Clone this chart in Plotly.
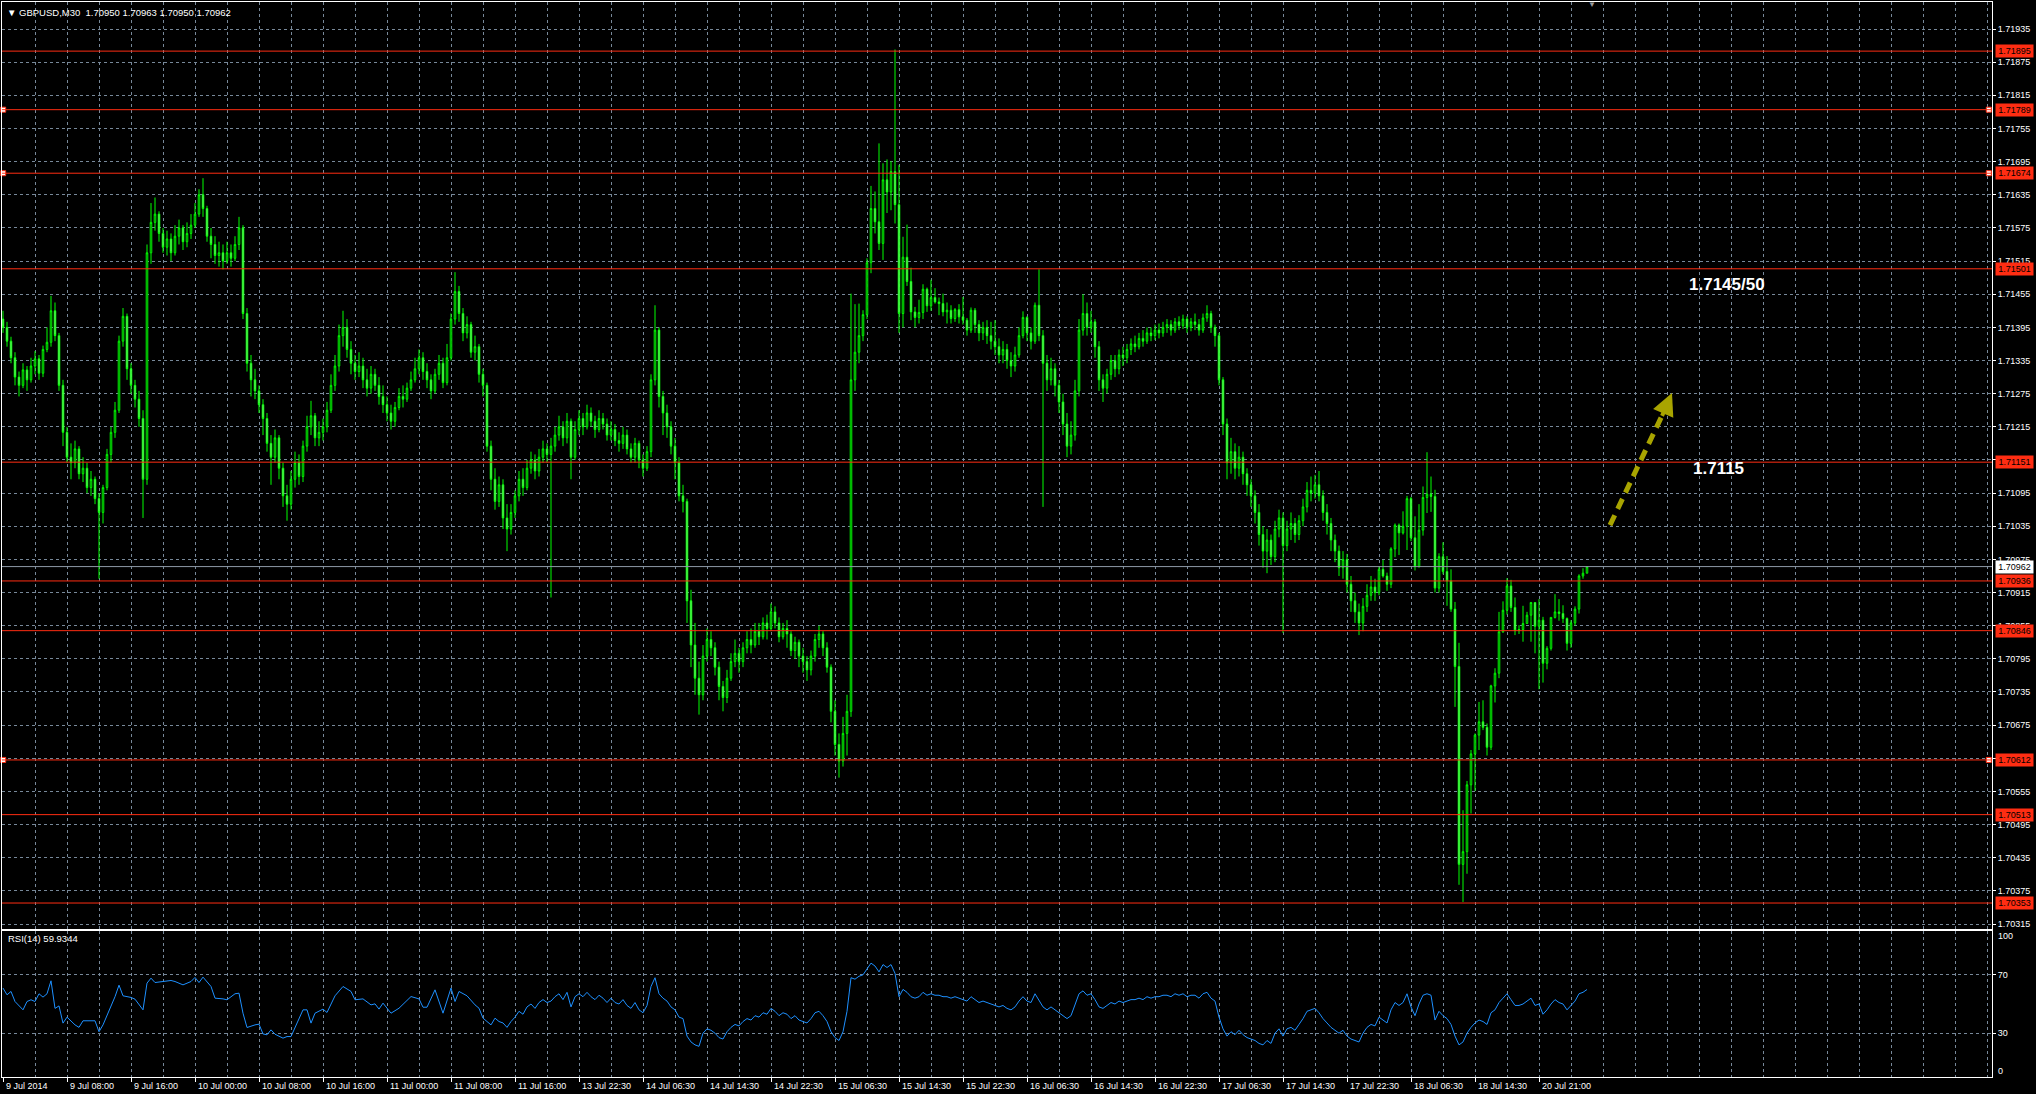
import plotly.graph_objects as go

W, H = 2036, 1094
BASE = 1.70          # prices below are in 0.00001 units above 1.70000
SCALE = 1e-5

# ---------------- OHLC data (GBPUSD M30), one entry per bar ----------------
first_open = 1410
close_pts = [
    1395, 1370, 1340, 1305, 1290, 1318, 1300, 1325,
    1338, 1312, 1355, 1368, 1425, 1380, 1290, 1205,
    1160, 1150, 1175, 1130, 1140, 1105, 1120, 1085,
    1060, 1105, 1165, 1205, 1245, 1370, 1415, 1320,
    1290, 1265, 1230, 1120, 1530, 1585, 1600, 1565,
    1540, 1555, 1530, 1560, 1575, 1550, 1565, 1580,
    1600, 1635, 1610, 1560, 1545, 1525, 1530, 1515,
    1530, 1520, 1545, 1575, 1420, 1330, 1300, 1280,
    1255, 1230, 1185, 1160, 1195, 1140, 1090, 1075,
    1120, 1150, 1125, 1180, 1215, 1235, 1195, 1205,
    1215, 1245, 1290, 1325, 1380, 1395, 1355, 1330,
    1315, 1325, 1300, 1285, 1310, 1290, 1270, 1255,
    1240, 1225, 1250, 1270, 1265, 1285, 1300, 1320,
    1340, 1315, 1300, 1280, 1310, 1330, 1295, 1340,
    1410, 1460, 1420, 1385, 1400, 1350, 1360, 1310,
    1290, 1180, 1120, 1080, 1110, 1050, 1030, 1060,
    1090, 1120, 1105, 1140, 1155, 1135, 1160, 1175,
    1165, 1180, 1200, 1215, 1195, 1225, 1160, 1210,
    1230, 1215, 1240, 1225, 1210, 1230, 1220, 1200,
    1210, 1190, 1185, 1200, 1175, 1160, 1185, 1155,
    1140, 1170, 1300, 1390, 1270, 1240, 1215, 1180,
    1150, 1090, 1080, 900, 820, 760, 730, 800,
    830, 815, 780, 745, 725, 760, 790, 805,
    790, 815, 830, 820, 845, 835, 860, 850,
    880, 860, 835, 850, 840, 810, 825, 800,
    790, 775, 800, 830, 840, 815, 780, 700,
    640, 610, 660, 700, 1300, 1350, 1380, 1418,
    1512, 1610, 1586, 1547, 1662, 1640, 1677, 1617,
    1420, 1522, 1478, 1423, 1413, 1422, 1464, 1434,
    1449, 1441, 1438, 1423, 1426, 1411, 1427, 1414,
    1408, 1390, 1426, 1400, 1385, 1395, 1380, 1370,
    1360, 1345, 1355, 1335, 1325, 1345, 1380, 1413,
    1385, 1370, 1435, 1380, 1330, 1300, 1320, 1290,
    1260, 1220, 1180, 1200, 1280, 1390, 1420, 1395,
    1405, 1360, 1300, 1285, 1310, 1335, 1320, 1345,
    1340, 1355, 1365, 1360, 1375, 1370, 1385, 1380,
    1390, 1385, 1395, 1400, 1390, 1405, 1398, 1410,
    1395, 1405, 1400, 1390, 1412, 1420, 1395, 1380,
    1300, 1220, 1150, 1170, 1140, 1160, 1130, 1110,
    1090, 1060, 1020, 990, 1010, 980, 1030, 1050,
    1000, 1030, 1040, 1020, 1045, 1070, 1100, 1095,
    1110, 1090, 1060, 1040, 1010, 990, 960, 975,
    930, 900, 880, 860, 890, 910, 925, 915,
    957, 945, 930, 994, 1037, 1023, 1035, 1085,
    1014, 962, 1028, 1087, 1093, 1089, 923, 980,
    953, 936, 885, 781, 423, 446, 567, 623,
    657, 681, 671, 635, 746, 769, 844, 883,
    927, 888, 846, 848, 859, 874, 897, 854,
    865, 787, 814, 870, 880, 877, 868, 823,
    860, 885, 945, 950, 962,
]
high_pts = [
    1425, 1405, 1378, 1350, 1315, 1330, 1325, 1340,
    1352, 1345, 1362, 1395, 1452, 1440, 1385, 1300,
    1215, 1185, 1190, 1180, 1160, 1150, 1135, 1125,
    1095, 1110, 1175, 1215, 1260, 1380, 1430, 1420,
    1330, 1300, 1280, 1245, 1545, 1620, 1630, 1605,
    1575, 1570, 1565, 1580, 1590, 1580, 1585, 1600,
    1620, 1645, 1665, 1615, 1575, 1560, 1550, 1545,
    1550, 1545, 1560, 1595, 1580, 1430, 1345, 1320,
    1290, 1265, 1240, 1200, 1210, 1200, 1150, 1110,
    1135, 1170, 1165, 1190, 1235, 1262, 1240, 1225,
    1230, 1260, 1310, 1345, 1400, 1425, 1410, 1370,
    1345, 1350, 1340, 1320, 1325, 1320, 1305, 1290,
    1270, 1255, 1260, 1285, 1290, 1295, 1315, 1340,
    1355, 1350, 1330, 1310, 1320, 1345, 1340, 1365,
    1420, 1495, 1470, 1430, 1415, 1405, 1380, 1365,
    1320, 1295, 1190, 1140, 1125, 1120, 1075, 1075,
    1100, 1135, 1140, 1155, 1170, 1165, 1175, 1190,
    1185, 1195, 1215, 1235, 1225, 1240, 1230, 1225,
    1245, 1240, 1255, 1250, 1235, 1245, 1240, 1230,
    1225, 1220, 1205, 1215, 1210, 1185, 1195, 1190,
    1165, 1180, 1310, 1435, 1395, 1280, 1255, 1225,
    1195, 1160, 1110, 1085, 920, 860, 790, 820,
    850, 845, 825, 790, 755, 775, 805, 830,
    815, 825, 845, 850, 860, 860, 870, 875,
    895, 890, 870, 860, 865, 845, 835, 830,
    815, 800, 810, 840, 855, 845, 825, 785,
    720, 660, 690, 730, 1456, 1437, 1438, 1426,
    1520, 1651, 1641, 1728, 1692, 1699, 1696, 1898,
    1689, 1559, 1581, 1503, 1432, 1445, 1473, 1467,
    1481, 1466, 1449, 1456, 1440, 1435, 1430, 1437,
    1450, 1412, 1431, 1430, 1408, 1405, 1408, 1405,
    1408, 1375, 1370, 1365, 1350, 1360, 1395, 1424,
    1415, 1395, 1440, 1500, 1390, 1345, 1340, 1330,
    1300, 1275, 1240, 1225, 1300, 1410, 1455, 1440,
    1425, 1410, 1370, 1310, 1320, 1345, 1345, 1355,
    1360, 1365, 1375, 1380, 1385, 1390, 1395, 1395,
    1400, 1402, 1405, 1410, 1408, 1412, 1415, 1418,
    1415, 1412, 1420, 1410, 1420, 1435, 1425, 1400,
    1385, 1305, 1230, 1195, 1185, 1180, 1170, 1140,
    1120, 1100, 1075, 1035, 1030, 1020, 1045, 1065,
    1060, 1045, 1060, 1050, 1055, 1085, 1115, 1125,
    1128, 1135, 1100, 1075, 1050, 1020, 1000, 990,
    985, 945, 915, 895, 905, 930, 945, 940,
    962, 974, 951, 997, 1040, 1040, 1062, 1090,
    1088, 1053, 1075, 1107, 1169, 1125, 1101, 986,
    1006, 981, 957, 898, 824, 521, 574, 630,
    660, 717, 720, 678, 748, 778, 880, 899,
    941, 938, 906, 856, 891, 880, 898, 895,
    903, 871, 818, 870, 912, 903, 892, 870,
    865, 890, 948, 959, 963,
]
low_pts = [
    1385, 1360, 1330, 1290, 1270, 1285, 1280, 1295,
    1310, 1300, 1305, 1350, 1360, 1370, 1280, 1180,
    1150, 1120, 1140, 1120, 1115, 1095, 1090, 1075,
    940, 1040, 1100, 1150, 1195, 1240, 1360, 1300,
    1275, 1250, 1215, 1050, 1110, 1510, 1570, 1550,
    1530, 1525, 1515, 1525, 1545, 1535, 1540, 1555,
    1575, 1595, 1595, 1550, 1520, 1510, 1505, 1500,
    1510, 1505, 1515, 1535, 1410, 1315, 1270, 1265,
    1240, 1200, 1170, 1110, 1150, 1120, 1070, 1045,
    1065, 1105, 1110, 1115, 1170, 1200, 1180, 1180,
    1190, 1205, 1240, 1280, 1315, 1360, 1340, 1310,
    1300, 1305, 1285, 1270, 1275, 1280, 1255, 1240,
    1225, 1210, 1215, 1245, 1250, 1260, 1280, 1295,
    1310, 1300, 1285, 1265, 1275, 1300, 1285, 1290,
    1335, 1400, 1405, 1370, 1375, 1340, 1335, 1295,
    1270, 1170, 1100, 1065, 1070, 1030, 990, 1020,
    1050, 1080, 1090, 1100, 1130, 1120, 1125, 1150,
    1150, 906, 1170, 1190, 1180, 1185, 1120, 1155,
    1200, 1200, 1210, 1215, 1195, 1205, 1210, 1190,
    1190, 1180, 1170, 1175, 1165, 1150, 1150, 1140,
    1125, 1135, 1160, 1290, 1250, 1200, 1195, 1165,
    1120, 1080, 1060, 860, 780, 730, 694, 720,
    790, 800, 765, 720, 700, 715, 755, 780,
    770, 780, 805, 805, 815, 820, 830, 830,
    845, 850, 825, 830, 815, 800, 795, 780,
    770, 755, 765, 790, 815, 800, 770, 680,
    620, 580, 600, 620, 690, 1280, 1330, 1370,
    1410, 1493, 1565, 1535, 1517, 1602, 1607, 1583,
    1385, 1395, 1470, 1408, 1395, 1402, 1410, 1423,
    1425, 1438, 1417, 1415, 1402, 1402, 1405, 1402,
    1400, 1380, 1385, 1385, 1370, 1372, 1365, 1355,
    1345, 1330, 1330, 1320, 1305, 1315, 1340, 1375,
    1370, 1355, 1365, 1370, 1070, 1280, 1290, 1270,
    1240, 1200, 1160, 1165, 1190, 1270, 1380, 1380,
    1385, 1340, 1280, 1260, 1275, 1300, 1305, 1310,
    1325, 1330, 1345, 1350, 1355, 1360, 1365, 1370,
    1372, 1375, 1378, 1385, 1380, 1385, 1390, 1392,
    1385, 1388, 1390, 1380, 1385, 1405, 1385, 1360,
    1290, 1200, 1120, 1130, 1120, 1125, 1110, 1090,
    1070, 1040, 1000, 960, 950, 965, 970, 1015,
    842, 990, 1010, 1005, 1010, 1035, 1060, 1080,
    1085, 1080, 1045, 1020, 990, 970, 945, 940,
    915, 880, 860, 838, 845, 880, 900, 900,
    910, 942, 918, 923, 979, 983, 1020, 992,
    1008, 955, 960, 1018, 1059, 1061, 915, 915,
    948, 891, 880, 708, 386, 355, 406, 515,
    556, 630, 666, 620, 630, 716, 760, 842,
    875, 880, 838, 840, 826, 859, 826, 805,
    740, 752, 776, 810, 868, 864, 860, 810,
    815, 855, 877, 940, 950,
]

# ---------------- RSI(14) readings (bar index, value) ----------------
rsi_bar = [0, 1, 2, 3, 5, 6, 7, 8, 9, 10, 11, 12, 13, 14, 15, 16, 18, 19, 20, 23,
           24, 25, 28, 29, 30, 32, 33, 35, 36, 37, 38, 40, 42, 43, 45, 47, 48, 49, 50, 52,
           53, 55, 56, 58, 59, 60, 61, 63, 64, 65, 66, 67, 68, 70, 71, 72, 73, 75, 76, 77,
           78, 80, 81, 83, 85, 87, 88, 90, 92, 93, 94, 95, 97, 99, 102, 104, 105, 106, 108, 110,
           112, 113, 114, 116, 118, 119, 120, 122, 123, 124] + list(range(125, 397))
rsi_val = [60.9, 56.3, 58.6, 51.7, 46, 51.7, 52.9, 51.7, 57, 54.7, 57, 65.9, 47, 48.7, 36.9, 41, 35.7, 34, 38.5, 38.5,
           31, 35.7, 55, 62.9, 55.6, 54.5, 53.3, 46, 64.3, 67.7, 64.7, 65.4, 66.1, 65.4, 63.1, 65.4, 68.2, 64.7, 68.4, 62,
           54, 53.5, 52.9, 57, 57.4, 43.7, 33.9, 35.7, 36.2, 29.5, 28.9, 32.3, 29.3, 26.6, 27.7, 27.7, 34, 46, 46, 36.9,
           43.7, 46.5, 44.2, 55.6, 62, 58.6, 52.9, 53.5, 49.4, 50.1, 46.5, 50.6, 43.7, 47.1, 55.1, 53.5, 47.8, 47.8, 59.7, 43.7,
           60.9, 51.7, 58.6, 55.6, 49.4, 47.1, 40.3, 35.7, 40.3, 38,
           37, 34, 38, 41, 45, 43, 48, 50, 47, 51, 53, 51, 52, 55, 57, 53, 58, 48, 55,
           57, 55, 58, 55, 53, 56, 54, 51, 54, 51, 50, 53, 49, 47, 51, 46,
           44, 49, 62, 68, 57, 54, 52, 48, 46, 41, 40, 28, 24, 22, 21, 30,
           33, 32, 30, 27, 26, 31, 34, 36, 35, 38, 40, 39, 42, 41, 44, 43,
           47, 45, 42, 44, 43, 40, 42, 39, 38, 37, 40, 44, 45, 42, 38, 31,
           27, 25, 31, 45, 68, 67, 69, 70, 74, 78, 76, 72, 77, 75, 77, 71,
           55, 60, 58, 55, 54, 55, 58, 56, 57, 56, 56, 55, 55, 54, 55, 54,
           53, 52, 55, 53, 51, 52, 51, 50, 49, 48, 49, 47, 46, 48, 52, 55,
           52, 51, 57, 52, 48, 46, 48, 46, 44, 42, 40, 42, 49, 57, 59, 56,
           57, 53, 48, 47, 49, 51, 50, 52, 51, 52, 53, 53, 54, 53, 55, 54,
           55, 55, 56, 56, 55, 57, 56, 57, 55, 56, 56, 54, 57, 58, 54, 52,
           41, 33, 28, 31, 29, 32, 29, 27, 26, 25, 23, 22, 25, 23, 30, 33,
           28, 33, 34, 32, 36, 40, 45, 46, 47, 44, 40, 37, 34, 32, 30, 32,
           28, 26, 25, 24, 30, 34, 36, 35, 41, 39, 37, 46, 51, 49, 51, 57,
           48, 42, 50, 56, 57, 56, 39, 45, 42, 40, 36, 28, 22, 24, 30, 34,
           37, 39, 38, 36, 44, 46, 51, 54, 57, 53, 49, 49, 50, 52, 54, 49,
           50, 43, 46, 50, 53, 51, 50, 46, 49, 52, 57, 58, 59.9344]

# ---------------- levels, ticks, labels ----------------
level_prices = [1.71895, 1.71789, 1.71674, 1.71501, 1.71151, 1.70936, 1.70846, 1.70612, 1.70513, 1.70353]
selected_levels = [1.71789, 1.71674, 1.70612]
current_price = 1.70962
price_tick_labels = ["1.71935", "1.71875", "1.71815", "1.71755", "1.71695", "1.71635", "1.71575",
                     "1.71515", "1.71455", "1.71395", "1.71335", "1.71275", "1.71215", "1.71155",
                     "1.71095", "1.71035", "1.70975", "1.70915", "1.70855", "1.70795", "1.70735",
                     "1.70675", "1.70615", "1.70555", "1.70495", "1.70435", "1.70375", "1.70315"]
time_label_bars = [0, 16, 32, 48, 64, 80, 96, 112, 128, 144, 160, 176, 192, 208, 224, 240,
                   256, 272, 288, 304, 320, 336, 352, 368, 384]
time_labels = ["9 Jul 2014", "9 Jul 08:00", "9 Jul 16:00", "10 Jul 00:00", "10 Jul 08:00",
               "10 Jul 16:00", "11 Jul 00:00", "11 Jul 08:00", "11 Jul 16:00", "13 Jul 22:30",
               "14 Jul 06:30", "14 Jul 14:30", "14 Jul 22:30", "15 Jul 06:30", "15 Jul 14:30",
               "15 Jul 22:30", "16 Jul 06:30", "16 Jul 14:30", "16 Jul 22:30", "17 Jul 06:30",
               "17 Jul 14:30", "17 Jul 22:30", "18 Jul 06:30", "18 Jul 14:30", "20 Jul 21:00"]
title_text = "GBPUSD,M30  1.70950 1.70963 1.70950 1.70962"
rsi_title = "RSI(14) 59.9344"
target_labels = ["1.7145/50", "1.7115"]

# ---------------- build series ----------------
n = len(close_pts)
bars = list(range(n))
c = [BASE + v * SCALE for v in close_pts]
o = [BASE + first_open * SCALE] + c[:-1]
h = [max(BASE + v * SCALE, oo, cc) for v, oo, cc in zip(high_pts, o, c)]
l = [min(BASE + v * SCALE, oo, cc) for v, oo, cc in zip(low_pts, o, c)]

FONT = "Liberation Sans, Arial, sans-serif"
GRID = "#778899"
RED = "#ff2d12"
LIME = "#00ff00"

def px_x(p):
    return p / W

def px_y(p):
    return (H - p) / H

XR = [-0.25, 497.25]
YR = [1.703060, 1.719839]

fig = go.Figure()
fig.add_trace(go.Candlestick(
    x=bars, open=o, high=h, low=l, close=c,
    increasing=dict(line=dict(color=LIME, width=1), fillcolor="#000000"),
    decreasing=dict(line=dict(color=LIME, width=1), fillcolor="#ffffff"),
    whiskerwidth=0, hoverinfo="skip", showlegend=False,
    xaxis="x", yaxis="y"))

fig.add_trace(go.Scatter(
    x=rsi_bar, y=rsi_val, mode="lines",
    line=dict(color="#1e90ff", width=1),
    hoverinfo="skip", showlegend=False, xaxis="x2", yaxis="y2"))

# small "selected object" squares at both ends of some level lines
fig.add_trace(go.Scatter(
    x=[XR[0] + 0.3] * len(selected_levels) + [XR[1] - 0.8] * len(selected_levels),
    y=selected_levels + selected_levels, mode="markers",
    marker=dict(symbol="square", size=5, color="#ffffff", line=dict(color=RED, width=1)),
    cliponaxis=False, hoverinfo="skip", showlegend=False, xaxis="x", yaxis="y"))

grid_ticks = list(range(0, 497, 8))
tick_prices = [float(t) for t in price_tick_labels]

fig.update_layout(
    width=W, height=H,
    margin=dict(l=0, r=0, t=0, b=0),
    paper_bgcolor="#000000", plot_bgcolor="#000000",
    boxgap=0.45,
    font=dict(family=FONT, size=9, color="#ffffff"),
    xaxis=dict(domain=[px_x(2), px_x(1992)], range=XR, anchor="y",
               tickvals=grid_ticks, showticklabels=False, ticks="",
               showgrid=True, gridcolor=GRID, griddash="3px,3px", gridwidth=1,
               showline=True, linecolor="#ffffff", linewidth=1, mirror=True,
               zeroline=False, rangeslider=dict(visible=False), fixedrange=True),
    yaxis=dict(domain=[px_y(929), px_y(2)], range=YR, side="right", anchor="x",
               tickvals=tick_prices, ticktext=price_tick_labels,
               ticks="outside", ticklen=3, tickcolor="#ffffff",
               tickfont=dict(family=FONT, size=9, color="#ffffff"),
               showgrid=True, gridcolor=GRID, griddash="3px,3px", gridwidth=1,
               showline=True, linecolor="#ffffff", linewidth=1, mirror=True,
               zeroline=False, fixedrange=True),
    xaxis2=dict(domain=[px_x(2), px_x(1992)], range=XR, anchor="y2", matches="x",
                tickvals=time_label_bars, ticktext=[""] * len(time_label_bars),
                ticks="outside", ticklen=4, tickcolor="#ffffff",
                showgrid=True, gridcolor=GRID, griddash="3px,3px",
                minor=dict(tick0=0, dtick=8, showgrid=True, gridcolor=GRID, griddash="3px,3px", ticks=""),
                showline=True, linecolor="#ffffff", linewidth=1, mirror=True,
                zeroline=False, fixedrange=True),
    yaxis2=dict(domain=[px_y(1077), px_y(931)], range=[0, 100], side="right", anchor="x2",
                tickvals=[70, 30], ticktext=["70", "30"],
                ticks="outside", ticklen=3, tickcolor="#ffffff",
                tickfont=dict(family=FONT, size=9, color="#ffffff"),
                showgrid=True, gridcolor=GRID, griddash="3px,3px",
                showline=True, linecolor="#ffffff", linewidth=1, mirror=True,
                zeroline=False, fixedrange=True),
)

shapes = []
for lv in level_prices:
    shapes.append(dict(type="line", xref="x domain", x0=0, x1=1, yref="y", y0=lv, y1=lv,
                       line=dict(color=RED, width=1), layer="above"))
shapes.append(dict(type="line", xref="x domain", x0=0, x1=1, yref="y", y0=current_price, y1=current_price,
                   line=dict(color="#8f9aa6", width=1), layer="above"))
# dashed forecast arrow shaft
shapes.append(dict(type="line", xref="x", yref="y", x0=401.75, y0=1.71037, x1=415.4, y1=1.71245,
                   line=dict(color="#a8a400", width=5, dash="11px,7px"), layer="above"))
fig.update_layout(shapes=shapes)

ann = []
# price labels on the right axis
for lv in level_prices:
    ann.append(dict(xref="paper", x=px_x(1995), xanchor="left", yref="y", y=lv, yanchor="middle",
                    text=f"{lv:.5f}", showarrow=False, bgcolor=RED, borderpad=1, width=35,
                    font=dict(family=FONT, size=9, color="#000000")))
ann.append(dict(xref="paper", x=px_x(1995), xanchor="left", yref="y", y=current_price, yanchor="middle",
                text=f"{current_price:.5f}", showarrow=False, bgcolor="#ffffff", borderpad=1, width=35,
                font=dict(family=FONT, size=9, color="#000000")))
# time labels
for b, t in zip(time_label_bars, time_labels):
    ann.append(dict(xref="x2", x=b, xanchor="left", xshift=1, yref="paper", y=px_y(1086), yanchor="middle",
                    text=t, showarrow=False, font=dict(family=FONT, size=9, color="#ffffff")))
# RSI scale ends
ann.append(dict(xref="paper", x=px_x(1996), xanchor="left", yref="paper", y=px_y(936), yanchor="middle",
                text="100", showarrow=False, font=dict(family=FONT, size=9, color="#ffffff")))
ann.append(dict(xref="paper", x=px_x(1996), xanchor="left", yref="paper", y=px_y(1071), yanchor="middle",
                text="0", showarrow=False, font=dict(family=FONT, size=9, color="#ffffff")))
# titles
ann.append(dict(xref="paper", x=px_x(5), xanchor="left", yref="paper", y=px_y(12), yanchor="middle",
                text="▼ " + title_text, showarrow=False, font=dict(family=FONT, size=9.5, color="#ffffff")))
ann.append(dict(xref="paper", x=px_x(6), xanchor="left", yref="paper", y=px_y(938), yanchor="middle",
                text=rsi_title, showarrow=False, font=dict(family=FONT, size=9.5, color="#ffffff")))
# chart shift marker
ann.append(dict(xref="paper", x=px_x(1592), xanchor="center", yref="paper", y=px_y(5), yanchor="middle",
                text="▼", showarrow=False, font=dict(family=FONT, size=8, color="#9a9a9a")))
# target annotations
ann.append(dict(xref="x", x=431.0, yref="y", y=1.71472, text="<b>" + target_labels[0] + "</b>",
                showarrow=False, font=dict(family=FONT, size=17, color="#ffffff")))
ann.append(dict(xref="x", x=428.75, yref="y", y=1.71139, text="<b>" + target_labels[1] + "</b>",
                showarrow=False, font=dict(family=FONT, size=17, color="#ffffff")))
# arrow head
ann.append(dict(xref="x", yref="y", x=417.25, y=1.71276, axref="x", ayref="y", ax=414.6, ay=1.71232,
                text="", showarrow=True, arrowhead=2, arrowsize=1.1, arrowwidth=4, arrowcolor="#a8a400"))
fig.update_layout(annotations=ann)

fig.write_html("out.html", config=dict(displayModeBar=False, staticPlot=True),
               post_script="document.body.style.margin='0';document.body.style.overflow='hidden';")
